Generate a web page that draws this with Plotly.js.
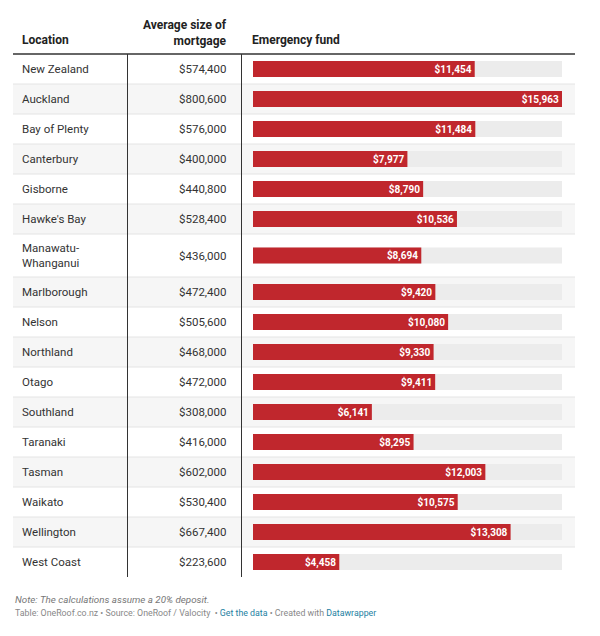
<!DOCTYPE html>
<html>
<head>
<meta charset="utf-8">
<script src="https://cdn.plot.ly/plotly-3.0.1.min.js"></script>
<style>
html,body{margin:0;padding:0;background:#fff;}
#chart{width:600px;height:636px;}
</style>
</head>
<body>
<div id="chart"></div>
<script>
// ---- data ----
const locations = ["New Zealand","Auckland","Bay of Plenty","Canterbury","Gisborne","Hawke's Bay","Manawatu-<br>Whanganui","Marlborough","Nelson","Northland","Otago","Southland","Taranaki","Tasman","Waikato","Wellington","West Coast"];
const mortgages = [574400,800600,576000,400000,440800,528400,436000,472400,505600,468000,472000,308000,416000,602000,530400,667400,223600];
const funds = [11454,15963,11484,7977,8790,10536,8694,9420,10080,9330,9411,6141,8295,12003,10575,13308,4458];
const headers = {location:"Location", mortgage:"Average size of<br>mortgage", fund:"Emergency fund"};
const note = "Note: The calculations assume a 20% deposit.";

// ---- layout helpers (pixel coordinates) ----
const W = 600, H = 636;
const px = v => v / W;
const tableLeft = 13, tableRight = 575, headerLine = 54;
const rowH = locations.map(l => l.includes('<br>') ? 43 : 30);
const rowTop = [];
let acc = headerLine;
rowH.forEach(h => { rowTop.push(acc); acc += h; });
const tableBottom = acc;
const yCenters = rowTop.map((t, i) => t + rowH[i] / 2);
const maxFund = Math.max(...funds);
const fmt = n => '$' + n.toLocaleString('en-US');

const font = "Roboto, 'Noto Sans', sans-serif";
const textCol = '#333333';

const shapes = [];
rowTop.forEach((t, i) => {
  if (i % 2 === 1) shapes.push({type:'rect', xref:'paper', yref:'y', x0:px(tableLeft), x1:px(tableRight), y0:t, y1:t+rowH[i], fillcolor:'#f6f6f6', line:{width:0}, layer:'below'});
});
rowTop.forEach((t, i) => {
  if (i > 0) shapes.push({type:'line', xref:'paper', yref:'y', x0:px(tableLeft), x1:px(tableRight), y0:t, y1:t, line:{color:'#e4e4e4', width:1}, layer:'below'});
});
shapes.push({type:'line', xref:'paper', yref:'y', x0:px(tableLeft), x1:px(tableRight), y0:headerLine, y1:headerLine, line:{color:'#333', width:1.3}});
[127.5, 241.5].forEach(x => shapes.push({type:'line', xref:'paper', yref:'y', x0:px(x), x1:px(x), y0:headerLine, y1:tableBottom, line:{color:'#333', width:1}}));

const annotations = [];
locations.forEach((l, i) => {
  annotations.push({xref:'paper', yref:'y', x:px(19.5), y:yCenters[i], text:l, showarrow:false, xanchor:'left', yanchor:'middle', align:'left', font:{family:font, size:11.5, color:textCol}});
  annotations.push({xref:'paper', yref:'y', x:px(229), y:yCenters[i], text:fmt(mortgages[i]), showarrow:false, xanchor:'right', yanchor:'middle', align:'right', font:{family:font, size:11.5, color:textCol}});
});
annotations.push({xref:'paper', yref:'y', x:px(20), y:40, text:'<b>'+headers.location+'</b>', showarrow:false, xanchor:'left', yanchor:'middle', font:{family:font, size:12, color:'#222'}});
annotations.push({xref:'paper', yref:'y', x:px(229), y:33, text:'<b>'+headers.mortgage.replace('<br>','</b><br><b>')+'</b>', showarrow:false, xanchor:'right', yanchor:'middle', align:'right', font:{family:font, size:12, color:'#222'}});
annotations.push({xref:'paper', yref:'y', x:px(250), y:40, text:'<b>'+headers.fund+'</b>', showarrow:false, xanchor:'left', yanchor:'middle', font:{family:font, size:12, color:'#222'}});
annotations.push({xref:'paper', yref:'y', x:px(13), y:599, text:'<i>'+note+'</i>', showarrow:false, xanchor:'left', yanchor:'middle', font:{family:font, size:9.8, color:'#777'}});
annotations.push({xref:'paper', yref:'y', x:px(13), y:613, text:'Table: OneRoof.co.nz • Source: OneRoof / Valocity  • <span style="color:#1d81a2">Get the data</span> • Created with <span style="color:#1d81a2">Datawrapper</span>', showarrow:false, xanchor:'left', yanchor:'middle', font:{family:font, size:8.8, color:'#888'}});

const traces = [
  {type:'bar', orientation:'h', y:yCenters, x:locations.map(() => maxFund), width:locations.map(() => 16),
   marker:{color:'#ececec'}, hoverinfo:'skip', showlegend:false},
  {type:'bar', orientation:'h', y:yCenters, x:funds, width:locations.map(() => 16),
   marker:{color:'#c0272d'}, text:funds.map(fmt), textposition:'inside', insidetextanchor:'end', textangle:0,
   textfont:{family:font, size:10, color:'#fff', weight:'bold'}, constraintext:'none',
   hoverinfo:'skip', showlegend:false}
];

const layout = {
  width:W, height:H, margin:{l:0,r:0,t:0,b:0}, paper_bgcolor:'#fff', plot_bgcolor:'rgba(0,0,0,0)',
  barmode:'overlay',
  xaxis:{domain:[px(253), px(562)], range:[0, maxFund], visible:false, fixedrange:true},
  yaxis:{domain:[0,1], range:[H, 0], visible:false, fixedrange:true},
  shapes, annotations, showlegend:false
};
Plotly.newPlot('chart', traces, layout, {displayModeBar:false, staticPlot:true});
</script>
</body>
</html>
